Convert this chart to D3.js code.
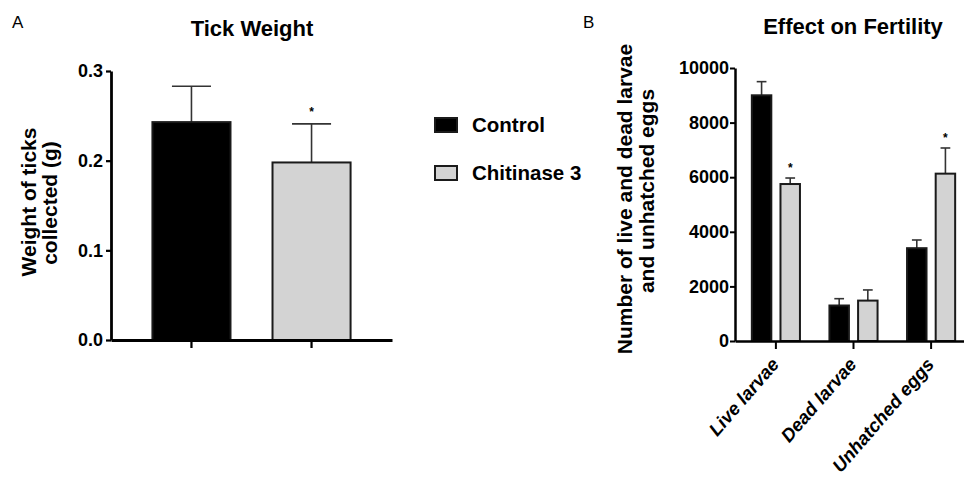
<!DOCTYPE html>
<html>
<head>
<meta charset="utf-8">
<script src="https://cdn.jsdelivr.net/npm/d3@7"></script>
<style>
  html, body { margin: 0; padding: 0; background: #fff; }
  svg { display: block; font-family: "Liberation Sans", Arial, Helvetica, sans-serif; }
</style>
</head>
<body>
<svg id="chart" width="964" height="480"></svg>
<script>
// ---------- data ----------
const seriesNames = ["Control", "Chitinase 3"];
const seriesFill = ["#000000", "#d3d3d3"];

// Panel A: Tick Weight
const catsA = ["Control", "Chitinase 3"];
const weightMean = [0.243, 0.198];
const weightErr = [0.040, 0.043];
const weightSig = [false, true];
const ticksA = [0, 0.1, 0.2, 0.3];

// Panel B: Effect on Fertility
const catsB = ["Live larvae", "Dead larvae", "Unhatched eggs"];
const controlB = [9000, 1300, 3400];
const controlErrB = [500, 250, 300];
const chitB = [5750, 1480, 6130];
const chitErrB = [220, 390, 940];
const controlSigB = [false, false, false];
const chitSigB = [true, false, true];
const ticksB = [0, 2000, 4000, 6000, 8000, 10000];

// ---------- drawing ----------
const svg = d3.select("#chart");
const errColor = "#333";

function styleAxis(g, w) {
  g.selectAll(".domain").attr("stroke", "#000").attr("stroke-width", w);
  g.selectAll(".tick line").attr("stroke", "#000").attr("stroke-width", w * 0.8);
  g.selectAll(".tick text").attr("fill", "#000").attr("font-weight", "bold")
    .attr("font-family", "'Liberation Sans', Arial, sans-serif");
}

function errorBar(g, cx, yTop, yVal, capW) {
  g.append("line").attr("x1", cx).attr("x2", cx).attr("y1", yVal).attr("y2", yTop)
    .attr("stroke", errColor).attr("stroke-width", 1.6);
  g.append("line").attr("x1", cx - capW / 2).attr("x2", cx + capW / 2).attr("y1", yTop).attr("y2", yTop)
    .attr("stroke", errColor).attr("stroke-width", 1.6);
}

// ===== Panel A =====
{
  const xA = d3.scaleBand().domain(catsA).range([111, 392]).paddingInner(0.35).paddingOuter(0.345);
  const yA = d3.scaleLinear().domain([0, 0.3]).range([340, 71]);
  const g = svg.append("g");

  catsA.forEach((c, i) => {
    const x = xA(c), bw = xA.bandwidth();
    const cx = x + bw / 2;
    errorBar(g, cx, yA(weightMean[i] + weightErr[i]), yA(weightMean[i]), bw / 2);
    g.append("rect").attr("x", x).attr("y", yA(weightMean[i]))
      .attr("width", bw).attr("height", yA(0) - yA(weightMean[i]))
      .attr("fill", seriesFill[i]).attr("stroke", "#1a1a1a").attr("stroke-width", 2);
    if (weightSig[i]) {
      g.append("text").attr("x", cx).attr("y", yA(weightMean[i] + weightErr[i]) - 8)
        .attr("text-anchor", "middle").attr("font-size", 12).attr("font-weight", "bold").text("*");
    }
  });

  const ay = g.append("g").attr("transform", "translate(111,0)")
    .call(d3.axisLeft(yA).tickValues(ticksA).tickFormat(d3.format(".1f")).tickSize(5).tickPadding(3).tickSizeOuter(0));
  ay.selectAll(".tick text").attr("font-size", 18);
  styleAxis(ay, 2.8);

  const ax = g.append("g").attr("transform", "translate(0,340)")
    .call(d3.axisBottom(xA).tickSize(8).tickSizeOuter(0).tickFormat(""));
  styleAxis(ax, 2.8);

  g.append("text").attr("x", 252).attr("y", 36).attr("text-anchor", "middle")
    .attr("font-size", 22).attr("font-weight", "bold").text("Tick Weight");
  g.append("text").attr("x", 12).attr("y", 28).attr("font-size", 17).text("A");

  g.append("text").attr("transform", "translate(36,202) rotate(-90)").attr("text-anchor", "middle")
    .attr("font-size", 21).attr("font-weight", "bold").text("Weight of ticks");
  g.append("text").attr("transform", "translate(57,203) rotate(-90)").attr("text-anchor", "middle")
    .attr("font-size", 21).attr("font-weight", "bold").text("collected (g)");
}

// ===== Legend =====
{
  const g = svg.append("g");
  const ly = d3.scalePoint().domain(seriesNames).range([125, 173]);
  seriesNames.forEach((s, i) => {
    g.append("rect").attr("x", 435).attr("y", ly(s) - 7).attr("width", 22).attr("height", 14)
      .attr("fill", seriesFill[i]).attr("stroke", "#1a1a1a").attr("stroke-width", 2);
    g.append("text").attr("x", 472).attr("y", ly(s) + 7).attr("font-size", 20.5)
      .attr("font-weight", "bold").text(s);
  });
}

// ===== Panel B =====
{
  const xB = d3.scaleBand().domain(catsB).range([735, 972]).paddingInner(0.38).paddingOuter(0.217);
  const xs = d3.scaleBand().domain(seriesNames).range([0, xB.bandwidth()]).paddingInner(0.32);
  const yB = d3.scaleLinear().domain([0, 10000]).range([341, 68]);
  const g = svg.append("g");

  const means = [controlB, chitB], errs = [controlErrB, chitErrB], sigs = [controlSigB, chitSigB];
  catsB.forEach((c, ci) => {
    seriesNames.forEach((s, si) => {
      const x = xB(c) + xs(s), bw = xs.bandwidth(), cx = x + bw / 2;
      const v = means[si][ci], e = errs[si][ci];
      errorBar(g, cx, yB(v + e), yB(v), bw / 2);
      g.append("rect").attr("x", x).attr("y", yB(v)).attr("width", bw).attr("height", yB(0) - yB(v))
        .attr("fill", seriesFill[si]).attr("stroke", "#1a1a1a").attr("stroke-width", 2);
      if (sigs[si][ci]) {
        g.append("text").attr("x", cx).attr("y", yB(v + e) - 6)
          .attr("text-anchor", "middle").attr("font-size", 12).attr("font-weight", "bold").text("*");
      }
    });
  });

  const ay = g.append("g").attr("transform", "translate(735,0)")
    .call(d3.axisLeft(yB).tickValues(ticksB).tickFormat(d3.format("d")).tickSize(5).tickPadding(1).tickSizeOuter(0));
  ay.selectAll(".tick text").attr("font-size", 18);
  styleAxis(ay, 2.5);

  const ax = g.append("g").attr("transform", "translate(0,341)")
    .call(d3.axisBottom(xB).tickSize(8).tickSizeOuter(0));
  styleAxis(ax, 2.5);
  ax.selectAll(".tick text")
    .attr("font-size", 18.5).attr("font-style", "italic")
    .attr("text-anchor", "end").attr("y", 0).attr("dy", null)
    .attr("transform", "translate(4,24) rotate(-49)");

  g.append("text").attr("x", 853).attr("y", 34).attr("text-anchor", "middle")
    .attr("font-size", 22).attr("font-weight", "bold").text("Effect on Fertility");
  g.append("text").attr("x", 583).attr("y", 28).attr("font-size", 17).text("B");

  g.append("text").attr("transform", "translate(632,199) rotate(-90)").attr("text-anchor", "middle")
    .attr("font-size", 21).attr("font-weight", "bold").text("Number of live and dead larvae");
  g.append("text").attr("transform", "translate(654,191) rotate(-90)").attr("text-anchor", "middle")
    .attr("font-size", 21).attr("font-weight", "bold").text("and unhatched eggs");
}
</script>
</body>
</html>
